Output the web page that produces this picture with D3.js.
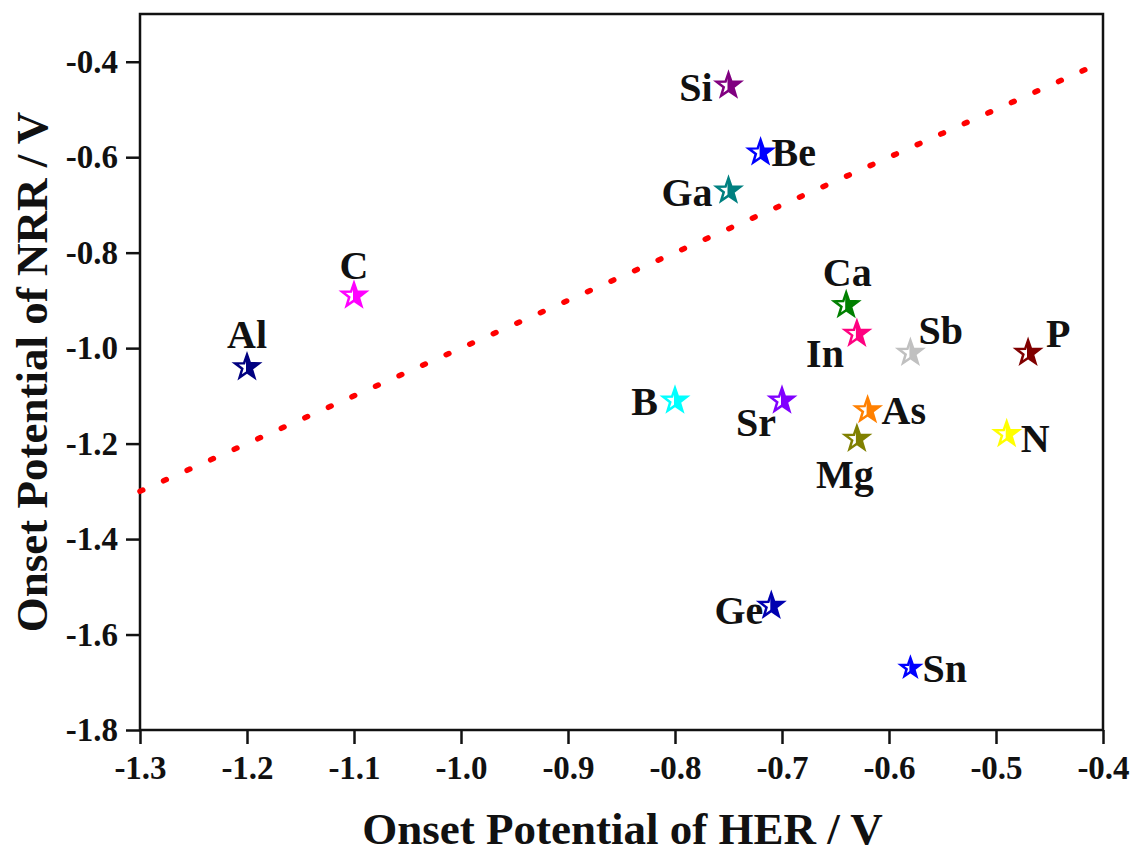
<!DOCTYPE html>
<html><head><meta charset="utf-8">
<script src="https://cdn.jsdelivr.net/npm/d3@7/dist/d3.min.js"></script>
<style>body{margin:0;background:#fff}svg{display:block}text{font-family:"Liberation Serif","Times New Roman",serif;font-weight:bold;fill:#111}</style>
</head><body><svg id="c" width="1134" height="855"></svg>
<script>
const elements = ["Si","Be","Ga","C","Al","Ca","In","Sb","P","B","Sr","As","Mg","N","Ge","Sn"];
const herOnset = [-0.75,-0.72,-0.75,-1.10,-1.20,-0.64,-0.63,-0.58,-0.47,-0.80,-0.70,-0.62,-0.63,-0.49,-0.71,-0.58];
const nrrOnset = [-0.45,-0.59,-0.67,-0.89,-1.04,-0.91,-0.97,-1.01,-1.01,-1.11,-1.11,-1.13,-1.19,-1.18,-1.54,-1.67];
const colors = ["#800080","#0000ff","#008080","#ff00ff","#000080","#008000","#ff0080","#c0c0c0","#800000","#00ffff","#8000ff","#ff8000","#808000","#ffff00","#0000b0","#0000ff"];
const xTicks = [-1.3,-1.2,-1.1,-1.0,-0.9,-0.8,-0.7,-0.6,-0.5,-0.4];
const yTicks = [-1.8,-1.6,-1.4,-1.2,-1.0,-0.8,-0.6,-0.4];
const guideLine = [[-1.3,-1.3],[-0.417,-0.417]];

// label layout (pixel offsets from marker, anchor)
const labelLayout = {
  Si:[-16,1,"end"], Be:[11,0,"start"], Ga:[-16,1,"end"], C:[0,-31,"middle"], Al:[0,-33,"middle"],
  Ca:[1,-33,"middle"], In:[-13,19,"end"], Sb:[8,-23,"start"], P:[18,-20,"start"], B:[-17,0,"end"],
  Sr:[-6,21,"end"], As:[14,0,"start"], Mg:[-12,35,"middle"], N:[14,4,"start"], Ge:[-8,4,"end"], Sn:[12,0,"start"]
};

const svg = d3.select("#c");
const L=140, R=1103, T=14, B=730;
const x = d3.scaleLinear().domain([-1.3,-0.4]).range([L,R]);
const y = d3.scaleLinear().domain([-1.8,-0.3]).range([B,T]);
const fmt = d => d.toFixed(1);

svg.append("rect").attr("x",L).attr("y",T).attr("width",R-L).attr("height",B-T)
  .attr("fill","none").attr("stroke","#111").attr("stroke-width",2.5);

function styleAxis(g){
  g.selectAll("path.domain").remove();
  g.selectAll("line").attr("stroke","#111").attr("stroke-width",2.5);
  g.selectAll("text").attr("font-size",33).style("font-family",'"Liberation Serif",serif').style("font-weight","bold").attr("fill","#111");
}
const xMinor = d3.range(-1.25,-0.4,0.1);
const gx = svg.append("g").attr("transform",`translate(0,${B})`);
gx.call(d3.axisBottom(x).tickValues(xMinor).tickSize(9).tickFormat(""));
gx.call(d3.axisBottom(x).tickValues(xTicks).tickSize(14).tickPadding(12).tickFormat(fmt));
styleAxis(gx);

const yMinor = d3.range(-1.7,-0.35,0.2);
const gy = svg.append("g").attr("transform",`translate(${L},0)`);
gy.call(d3.axisLeft(y).tickValues(yMinor).tickSize(9).tickFormat(""));
gy.call(d3.axisLeft(y).tickValues(yTicks).tickSize(14).tickPadding(8).tickFormat(fmt));
styleAxis(gy);

const gx1=x(guideLine[0][0]), gy1=y(guideLine[0][1]), gx2=x(guideLine[1][0]), gy2=y(guideLine[1][1]);
const len = Math.hypot(gx2-gx1, gy2-gy1), nDots = 40, period = (len-3)/nDots;
svg.append("line")
  .attr("x1",gx1).attr("y1",gy1).attr("x2",gx2).attr("y2",gy2)
  .attr("stroke","#ff0000").attr("stroke-width",5.5).attr("stroke-linecap","round")
  .attr("stroke-dasharray",`3,${(period-3).toFixed(3)}`);

function starPts(Ro){
  const ri = Ro*0.4, p=[];
  for(let i=0;i<10;i++){
    const a = -Math.PI/2 + i*Math.PI/5;
    const r = i%2===0?Ro:ri;
    p.push([r*Math.cos(a), r*Math.sin(a)]);
  }
  return "M"+p.map(d=>d[0].toFixed(2)+","+d[1].toFixed(2)).join("L")+"Z";
}
const defs = svg.append("defs");
defs.append("clipPath").attr("id","half").append("rect").attr("x",-1).attr("y",-20).attr("width",25).attr("height",40);

const g = svg.append("g");
elements.forEach((e,i)=>{
  const cx = x(herOnset[i]), cy = y(nrrOnset[i]), c = colors[i];
  const Ro = e==="Sn"?10:12.5;
  const s = g.append("g").attr("transform",`translate(${cx},${cy})`);
  s.append("path").attr("d",starPts(Ro)).attr("fill",c).attr("clip-path","url(#half)");
  s.append("path").attr("d",starPts(Ro)).attr("fill","none").attr("stroke",c).attr("stroke-width",2.5);
  const [dx,dy,anchor] = labelLayout[e];
  g.append("text").attr("x",cx+dx).attr("y",cy+dy).attr("dy","0.35em").attr("text-anchor",anchor)
    .attr("font-size",40).text(e);
});

svg.append("text").attr("x",(L+R)/2+1).attr("y",844).attr("text-anchor","middle").attr("font-size",45).text("Onset Potential of HER / V");
svg.append("text").attr("transform",`translate(47,${(T+B)/2}) rotate(-90)`).attr("text-anchor","middle").attr("font-size",45).text("Onset Potential of NRR / V");
</script></body></html>
